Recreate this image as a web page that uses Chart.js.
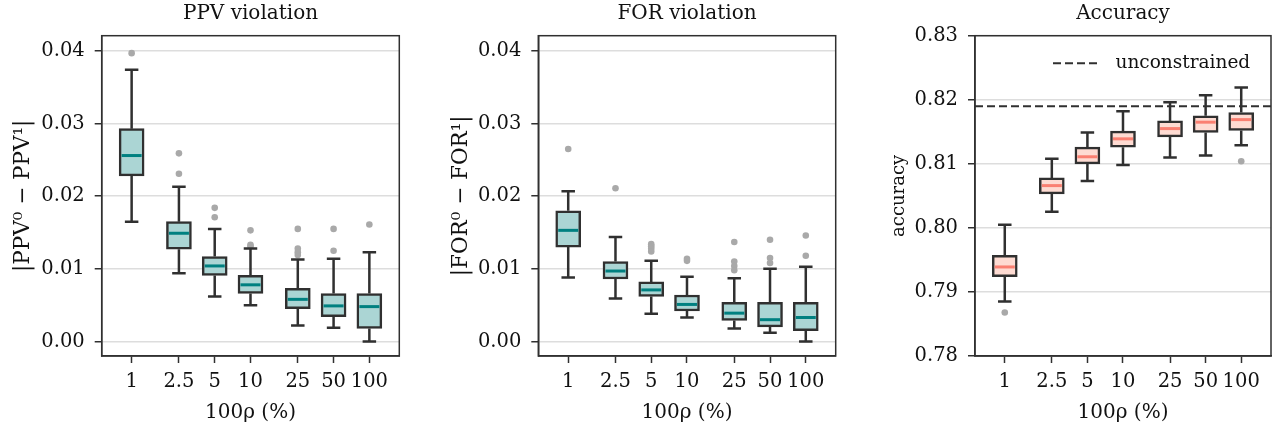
<!DOCTYPE html>
<html>
<head>
<meta charset="utf-8">
<script src="https://cdn.jsdelivr.net/npm/chart.js@4.4.1/dist/chart.umd.min.js"></script>
<style>
  body { margin: 0; background: #fff; }
  #wrap { position: relative; width: 1275px; height: 433px; }
  canvas { position: absolute; top: 0; }
</style>
</head>
<body>
<div id="wrap">
  <canvas id="ppv" width="425" height="433" style="left:0"></canvas>
  <canvas id="for" width="425" height="433" style="left:425px"></canvas>
  <canvas id="acc" width="425" height="433" style="left:850px"></canvas>
</div>
<script>
// x categories (100 rho, in %)
const rho = [1, 2.5, 5, 10, 25, 50, 100]
const rhoLabels = ['1', '2.5', '5', '10', '25', '50', '100']

// PPV violation |PPV0 - PPV1|
const ppvLo  = [0.0165, 0.0094, 0.0062, 0.0050, 0.0022, 0.0019, 0.0000]
const ppvQ1  = [0.0228, 0.0127, 0.0091, 0.0066, 0.0045, 0.0034, 0.0018]
const ppvMed = [0.0256, 0.0149, 0.0104, 0.0078, 0.0058, 0.0049, 0.0048]
const ppvQ3  = [0.0293, 0.0165, 0.0117, 0.0091, 0.0073, 0.0066, 0.0066]
const ppvHi  = [0.0374, 0.0213, 0.0155, 0.0128, 0.0113, 0.0114, 0.0123]
const ppvOut = [[0.0397], [0.0259, 0.0231], [0.0184, 0.0171], [0.0153, 0.0133, 0.0131],
                [0.0155, 0.0128, 0.0123, 0.0119], [0.0155, 0.0125], [0.0161]]

// FOR violation |FOR0 - FOR1|
const forLo  = [0.0088, 0.0059, 0.0038, 0.0033, 0.0018, 0.0012, 0.0000]
const forQ1  = [0.0130, 0.0086, 0.0062, 0.0042, 0.0029, 0.0020, 0.0015]
const forMed = [0.0153, 0.0097, 0.0071, 0.0051, 0.0039, 0.0030, 0.0033]
const forQ3  = [0.0180, 0.0110, 0.0082, 0.0064, 0.0054, 0.0054, 0.0054]
const forHi  = [0.0207, 0.0144, 0.0111, 0.0089, 0.0087, 0.0100, 0.0103]
const forOut = [[0.0265], [0.0211], [0.0134, 0.0131, 0.0128, 0.0124], [0.0114, 0.0111],
                [0.0137, 0.0110, 0.0104, 0.0098], [0.0140, 0.0115, 0.0108], [0.0146, 0.0118]]

// accuracy
const accLo  = [0.7885, 0.8025, 0.8073, 0.8098, 0.8110, 0.8113, 0.8129]
const accQ1  = [0.7924, 0.8053, 0.8100, 0.8126, 0.8142, 0.8149, 0.8152]
const accMed = [0.7939, 0.8066, 0.8111, 0.8139, 0.8155, 0.8165, 0.8169]
const accQ3  = [0.7957, 0.8078, 0.8126, 0.8151, 0.8167, 0.8175, 0.8180]
const accHi  = [0.8005, 0.8108, 0.8149, 0.8182, 0.8196, 0.8207, 0.8219]
const accOut = [[0.7868], [], [], [], [], [], [0.8104]]
const unconstrainedAcc = 0.8190

const violTicks = [0, 0.01, 0.02, 0.03, 0.04]
const violTickLabels = ['0.00', '0.01', '0.02', '0.03', '0.04']
const accTicks = [0.78, 0.79, 0.80, 0.81, 0.82, 0.83]
const accTickLabels = ['0.78', '0.79', '0.80', '0.81', '0.82', '0.83']

const EDGE = '#303030'
const TEXT = '#111111'
const FONT = 'DejaVu Serif'
Chart.defaults.font.family = FONT

// whiskers, caps and medians on top of the floating bars
const whiskers = {
  id: 'whiskers',
  afterDatasetsDraw(chart) {
    const s = chart.data.datasets[0].stats
    const y = chart.scales.y
    const ctx = chart.ctx
    ctx.save()
    chart.getDatasetMeta(0).data.forEach((bar, i) => {
      const x = bar.x
      const half = bar.width / 2
      const cap = bar.width * 0.27
      const pLo = y.getPixelForValue(s.lo[i]), pHi = y.getPixelForValue(s.hi[i])
      ctx.strokeStyle = EDGE
      ctx.lineWidth = 2.5
      ctx.beginPath()
      ctx.moveTo(x, y.getPixelForValue(s.q3[i])); ctx.lineTo(x, pHi)
      ctx.moveTo(x, y.getPixelForValue(s.q1[i])); ctx.lineTo(x, pLo)
      ctx.moveTo(x - cap, pHi); ctx.lineTo(x + cap, pHi)
      ctx.moveTo(x - cap, pLo); ctx.lineTo(x + cap, pLo)
      ctx.stroke()
      const pm = y.getPixelForValue(s.med[i])
      ctx.strokeStyle = s.medColor
      ctx.lineWidth = 3
      ctx.beginPath()
      ctx.moveTo(x - half + 2.5, pm); ctx.lineTo(x + half - 2.5, pm)
      ctx.stroke()
    })
    ctx.restore()
  }
}

const frame = {
  id: 'frame',
  afterDraw(chart) {
    const a = chart.chartArea
    const ctx = chart.ctx
    ctx.save()
    ctx.strokeStyle = EDGE
    ctx.lineWidth = 1.5
    ctx.strokeRect(a.left, a.top, a.right - a.left, a.bottom - a.top)
    ctx.restore()
  }
}

// dashed reference line and its legend (accuracy panel only)
const reference = {
  id: 'reference',
  beforeDatasetsDraw(chart) {
    const a = chart.chartArea
    const py = chart.scales.y.getPixelForValue(unconstrainedAcc)
    const ctx = chart.ctx
    ctx.save()
    ctx.strokeStyle = EDGE
    ctx.lineWidth = 2
    ctx.setLineDash([8, 4])
    ctx.beginPath()
    ctx.moveTo(a.left, py); ctx.lineTo(a.right, py)
    ctx.stroke()
    ctx.restore()
  },
  afterDraw(chart) {
    const a = chart.chartArea
    const ctx = chart.ctx
    const ly = a.top + 27.6
    ctx.save()
    ctx.strokeStyle = EDGE
    ctx.lineWidth = 2
    ctx.setLineDash([8, 4])
    ctx.beginPath()
    ctx.moveTo(a.right - 218, ly); ctx.lineTo(a.right - 173, ly)
    ctx.stroke()
    ctx.fillStyle = TEXT
    ctx.font = '18.5px "' + FONT + '"'
    ctx.textBaseline = 'middle'
    ctx.fillText('unconstrained', a.right - 155.5, ly)
    ctx.restore()
  }
}

function boxPanel(id, p) {
  const boxes = rho.map((r, i) => ({ x: r, y: [p.q1[i], p.q3[i]] }))
  const outliers = []
  p.out.forEach((list, i) => list.forEach(v => outliers.push({ x: rho[i], y: v })))

  return new Chart(document.getElementById(id), {
    type: 'bar',
    data: {
      datasets: [
        {
          type: 'bar',
          data: boxes,
          backgroundColor: p.fill,
          borderColor: EDGE,
          borderWidth: 2.5,
          borderSkipped: false,
          barThickness: 25,
          stats: p
        },
        {
          type: 'scatter',
          data: outliers,
          pointRadius: 3.3,
          pointBackgroundColor: '#a9a9a9',
          pointBorderWidth: 0
        }
      ]
    },
    options: {
      responsive: false,
      animation: false,
      layout: { padding: { left: 0, right: p.padRight, top: 0, bottom: 0 } },
      plugins: {
        legend: { display: false },
        tooltip: { enabled: false },
        title: {
          display: true,
          text: p.title,
          fullSize: false,
          color: TEXT,
          font: { size: 20, weight: 'normal' },
          padding: { top: 2, bottom: 9.7 }
        }
      },
      scales: {
        x: {
          type: 'logarithmic',
          min: 0.56,
          max: 178.6,
          offset: false,
          afterBuildTicks: s => { s.ticks = rho.map(v => ({ value: v })) },
          afterFit: s => { s.height = 77 },
          ticks: {
            autoSkip: false,
            maxRotation: 0,
            padding: 7,
            color: TEXT,
            font: { size: 19.5 },
            callback: (v, i) => rhoLabels[i]
          },
          grid: { drawOnChartArea: false, offset: false, tickLength: 7, tickColor: EDGE, tickWidth: 1.5 },
          border: { color: EDGE, width: 1.5 },
          title: {
            display: true,
            text: '100ρ (%)',
            color: TEXT,
            font: { size: 20 },
            padding: { top: 0, bottom: 8 }
          }
        },
        y: {
          min: p.yMin,
          max: p.yMax,
          bounds: 'data',
          afterBuildTicks: s => { s.ticks = p.ticks.map(v => ({ value: v })) },
          afterFit: s => { s.width = p.axisWidth },
          ticks: {
            padding: 10,
            color: TEXT,
            font: { size: 19.5 },
            callback: (v, i) => p.tickLabels[i]
          },
          grid: { color: '#dddddd', lineWidth: 1.5, tickLength: 7, tickColor: EDGE, tickWidth: 1.5 },
          border: { color: EDGE, width: 1.5 },
          title: {
            display: true,
            text: p.yTitle,
            color: TEXT,
            font: { size: p.yTitleSize },
            padding: { top: p.yTitlePad, bottom: 0 }
          }
        }
      }
    },
    plugins: [whiskers, frame].concat(p.extra || [])
  })
}

boxPanel('ppv', {
  title: 'PPV violation', yTitle: '|PPV⁰ − PPV¹|',
  lo: ppvLo, q1: ppvQ1, med: ppvMed, q3: ppvQ3, hi: ppvHi, out: ppvOut,
  fill: '#abd5d4', medColor: '#008080',
  yMin: -0.002, yMax: 0.0421, ticks: violTicks, tickLabels: violTickLabels,
  axisWidth: 101.7, padRight: 25.7, yTitlePad: 11, yTitleSize: 21.5
})

boxPanel('for', {
  title: 'FOR violation', yTitle: '|FOR⁰ − FOR¹|',
  lo: forLo, q1: forQ1, med: forMed, q3: forQ3, hi: forHi, out: forOut,
  fill: '#abd5d4', medColor: '#008080',
  yMin: -0.002, yMax: 0.0421, ticks: violTicks, tickLabels: violTickLabels,
  axisWidth: 113.3, padRight: 14.3, yTitlePad: 24, yTitleSize: 21.5
})

boxPanel('acc', {
  title: 'Accuracy', yTitle: 'accuracy',
  lo: accLo, q1: accQ1, med: accMed, q3: accQ3, hi: accHi, out: accOut,
  fill: '#fedbd2', medColor: '#fa8072',
  yMin: 0.78, yMax: 0.83, ticks: accTicks, tickLabels: accTickLabels,
  axisWidth: 125, padRight: 2.7, yTitlePad: 38.6, yTitleSize: 18,
  extra: [reference]
})
</script>
</body>
</html>
